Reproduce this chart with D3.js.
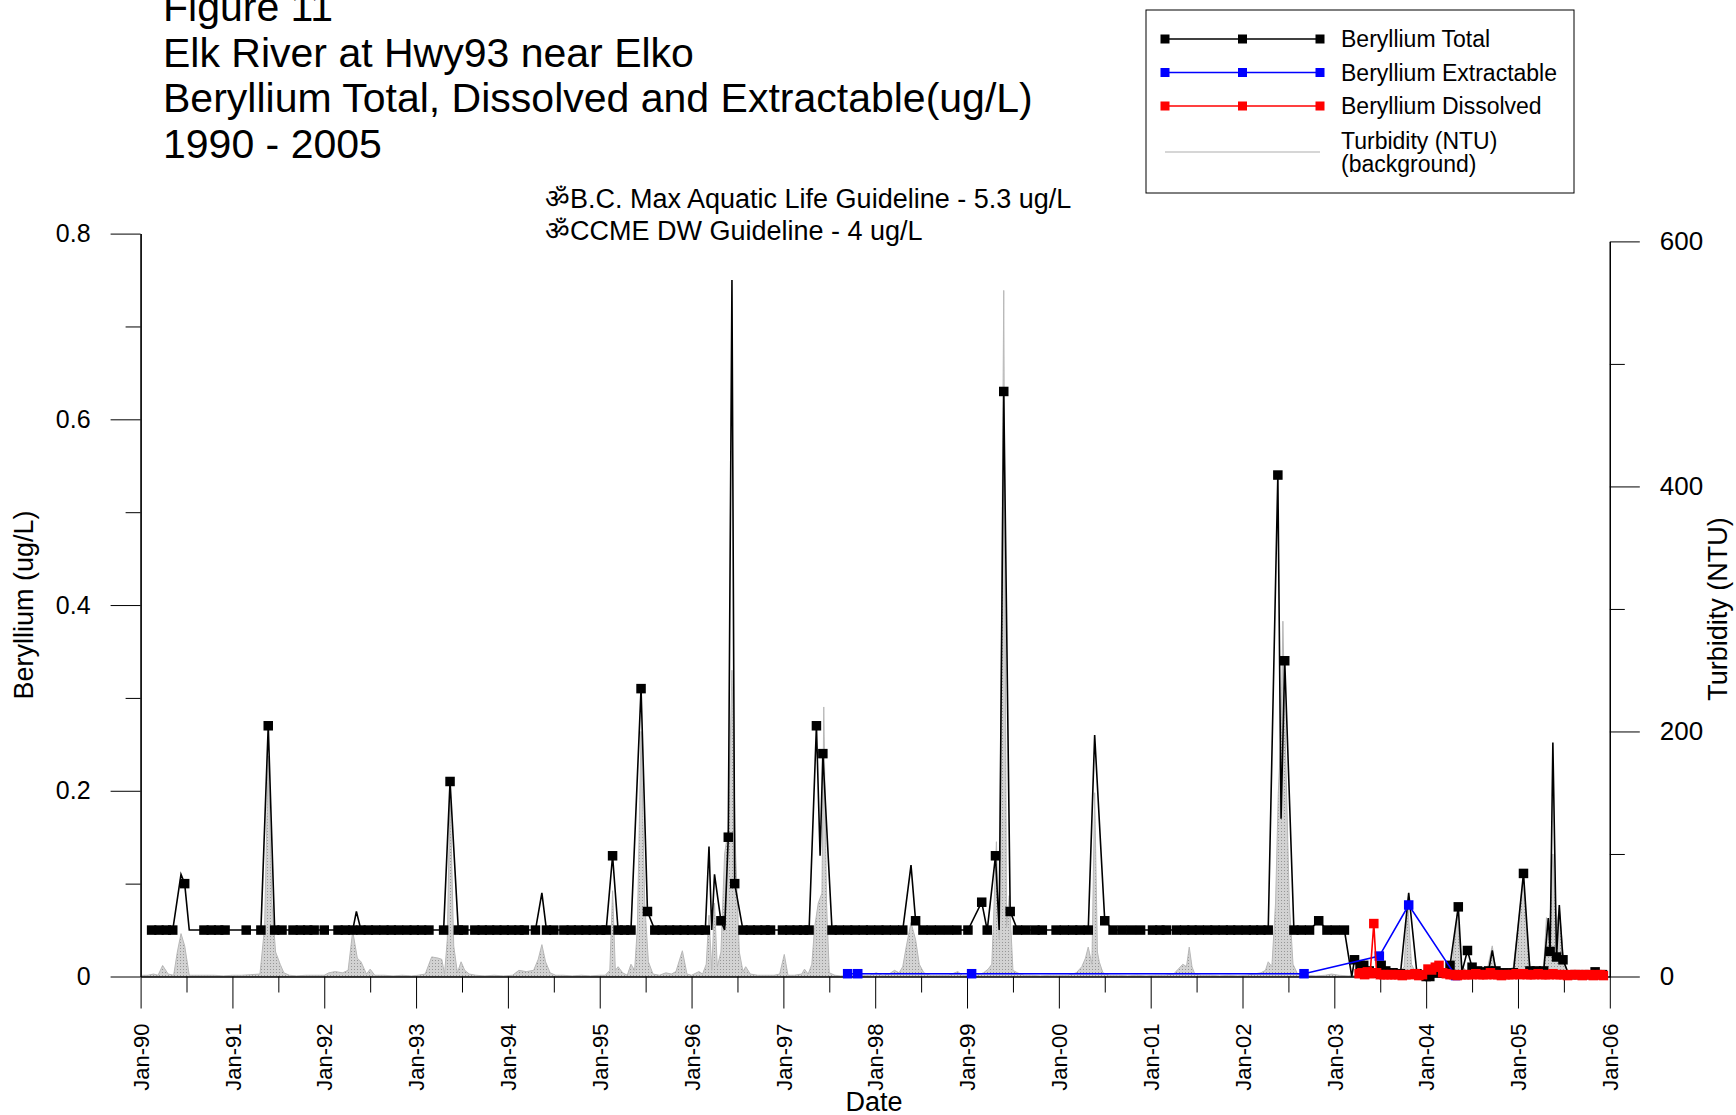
<!DOCTYPE html>
<html>
<head>
<meta charset="utf-8">
<script src="https://cdn.jsdelivr.net/npm/d3@7"></script>
<style>
  body { margin: 0; background: #fff; }
  text { font-family: "Liberation Sans", Arial, sans-serif; }
</style>
</head>
<body>
<svg id="chart" width="1736" height="1115"></svg>
<script>
// ---- data ----
var titleLines = ["Figure 11", "Elk River at Hwy93 near Elko",
  "Beryllium Total, Dissolved and Extractable(ug/L)", "1990 - 2005"];
var guideLines = ["\u0950B.C. Max Aquatic Life Guideline - 5.3 ug/L", "\u0950CCME DW Guideline - 4 ug/L"];

var yearTicks = [1990,1991,1992,1993,1994,1995,1996,1997,1998,1999,2000,2001,2002,2003,2004,2005,2006];
var yearLabels = ["Jan-90","Jan-91","Jan-92","Jan-93","Jan-94","Jan-95","Jan-96","Jan-97","Jan-98",
  "Jan-99","Jan-00","Jan-01","Jan-02","Jan-03","Jan-04","Jan-05","Jan-06"];
var midYearTicks = [1990.5,1991.5,1992.5,1993.5,1994.5,1995.5,1996.5,1997.5,1998.5,1999.5,
  2000.5,2001.5,2002.5,2003.5,2004.5,2005.5];
var leftMajor = [0, 0.2, 0.4, 0.6, 0.8];
var leftMinor = [0.1, 0.3, 0.5, 0.7];
var rightMajor = [0, 200, 400, 600];
var rightMinor = [100, 300, 500];

// [decimal year, ug/L]
var berylTotal = [
  [1990.12,.05],[1990.20,.05],[1990.28,.05],[1990.35,.05],[1990.44,.11],[1990.48,.10],[1990.53,.05],
  [1990.69,.05],[1990.77,.05],[1990.85,.05],[1990.92,.05],
  [1991.15,.05],[1991.31,.05],[1991.39,.27],[1991.46,.05],[1991.54,.05],[1991.66,.05],[1991.74,.05],
  [1991.82,.05],[1991.89,.05],
  [1992.00,.05],[1992.15,.05],[1992.23,.05],[1992.31,.05],[1992.35,.07],[1992.40,.05],[1992.48,.05],
  [1992.56,.05],[1992.65,.05],[1992.73,.05],[1992.81,.05],[1992.90,.05],[1992.98,.05],
  [1993.06,.05],[1993.14,.05],[1993.30,.05],[1993.37,.21],[1993.46,.05],[1993.52,.05],[1993.64,.05],
  [1993.72,.05],[1993.80,.05],[1993.88,.05],[1993.96,.05],
  [1994.04,.05],[1994.12,.05],[1994.18,.05],[1994.30,.05],[1994.37,.09],[1994.42,.05],[1994.50,.05],
  [1994.61,.05],[1994.69,.05],[1994.77,.05],[1994.85,.05],[1994.93,.05],
  [1995.01,.05],[1995.07,.05],[1995.14,.13],[1995.20,.05],[1995.27,.05],[1995.34,.05],[1995.45,.31],
  [1995.52,.07],[1995.60,.05],[1995.68,.05],[1995.76,.05],[1995.84,.05],[1995.92,.05],
  [1996.00,.05],[1996.08,.05],[1996.15,.05],[1996.19,.14],[1996.22,.05],[1996.25,.11],[1996.32,.06],
  [1996.36,.05],[1996.40,.15],[1996.44,.75],[1996.47,.10],[1996.56,.05],[1996.64,.05],[1996.72,.05],
  [1996.80,.05],[1996.86,.05],[1996.99,.05],
  [1997.07,.05],[1997.15,.05],[1997.22,.05],[1997.28,.05],[1997.36,.27],[1997.40,.13],[1997.43,.24],
  [1997.53,.05],[1997.61,.05],[1997.70,.05],[1997.78,.05],[1997.87,.05],[1997.95,.05],
  [1998.04,.05],[1998.12,.05],[1998.21,.05],[1998.30,.05],[1998.39,.12],[1998.44,.06],[1998.52,.05],
  [1998.61,.05],[1998.70,.05],[1998.80,.05],[1998.89,.05],
  [1999.01,.05],[1999.16,.08],[1999.22,.05],[1999.31,.13],[1999.35,.05],[1999.40,.63],[1999.47,.07],
  [1999.55,.05],[1999.64,.05],[1999.74,.05],[1999.82,.05],[1999.97,.05],
  [2000.06,.05],[2000.15,.05],[2000.23,.05],[2000.32,.05],[2000.39,.26],[2000.50,.06],[2000.59,.05],
  [2000.69,.05],[2000.79,.05],[2000.89,.05],
  [2001.02,.05],[2001.10,.05],[2001.17,.05],[2001.28,.05],[2001.37,.05],[2001.45,.05],[2001.53,.05],
  [2001.62,.05],[2001.70,.05],[2001.79,.05],[2001.87,.05],[2001.95,.05],
  [2002.04,.05],[2002.12,.05],[2002.20,.05],[2002.28,.05],[2002.385,.54],[2002.42,.17],[2002.46,.34],
  [2002.56,.05],[2002.64,.05],[2002.73,.05],[2002.83,.06],[2002.92,.05],
  [2003.01,.05],[2003.11,.05],[2003.19,0],[2003.22,.018],[2003.28,.012],[2003.32,.012],[2003.38,.006],
  [2003.46,.004],[2003.51,.012],[2003.56,.006],[2003.64,.004],[2003.72,.003],[2003.81,.09],[2003.90,.003],
  [2004.00,0],[2004.04,0],[2004.10,.004],[2004.18,.004],[2004.26,.012],[2004.35,.075],[2004.39,.005],
  [2004.45,.028],[2004.50,.010],[2004.56,.006],[2004.62,.005],[2004.68,.006],[2004.72,.028],[2004.76,.006],
  [2004.85,.004],[2004.95,.004],
  [2005.06,.111],[2005.13,.006],[2005.20,.006],[2005.28,.006],[2005.33,.063],[2005.35,.027],[2005.38,.252],
  [2005.42,.021],[2005.45,.077],[2005.49,.018],[2005.55,.003],[2005.62,.002],[2005.72,.002],[2005.84,.005],
  [2005.92,.002]
];
// samples of the total series drawn without a symbol
var totalNoSymbol = [1990.44,1990.53,1992.35,1994.37,1996.19,1996.22,1996.25,1996.36,1996.44,1997.40,
  1998.39,1999.35,2000.39,2002.42,2003.19,2003.81,2004.39,2004.72,2005.33,2005.38,2005.45,2005.55];

var berylExtractable = [
  [1997.70,.003],[1997.81,.003],[1999.05,.003],[2002.67,.003],[2003.49,.022],[2003.81,.077],[2004.32,.001]
];

var berylDissolved = [
  [2003.27,.003],[2003.30,.004],[2003.33,.002],[2003.36,.005],[2003.39,.003],[2003.43,.057],[2003.46,.004],
  [2003.50,.002],[2003.54,.002],[2003.58,.002],[2003.62,.002],[2003.66,.002],[2003.70,.002],[2003.74,.001],
  [2003.78,.002],[2003.83,.002],[2003.88,.003],[2003.92,.001],[2003.96,.002],[2004.02,.008],[2004.06,.007],
  [2004.10,.010],[2004.14,.012],[2004.18,.004],[2004.22,.003],[2004.26,.002],[2004.30,.002],[2004.34,.001],
  [2004.38,.002],[2004.42,.002],[2004.46,.002],[2004.50,.002],[2004.54,.003],[2004.58,.002],[2004.62,.002],
  [2004.66,.002],[2004.70,.004],[2004.74,.002],[2004.78,.002],[2004.82,.001],[2004.86,.002],[2004.90,.002],
  [2004.94,.002],[2004.98,.003],[2005.02,.002],[2005.06,.003],[2005.10,.002],[2005.14,.002],[2005.18,.002],
  [2005.22,.003],[2005.26,.002],[2005.30,.002],[2005.34,.002],[2005.38,.003],[2005.42,.002],[2005.46,.002],
  [2005.50,.002],[2005.54,.001],[2005.58,.002],[2005.62,.002],[2005.66,.002],[2005.70,.001],[2005.74,.002],
  [2005.78,.002],[2005.82,.001],[2005.86,.002],[2005.90,.002],[2005.93,.001]
];

// [decimal year, NTU]
var turbidity = [
  [1990.02,1],[1990.08,1],[1990.14,2],[1990.19,1],[1990.24,9],[1990.30,2],[1990.36,1],[1990.40,20],
  [1990.44,35],[1990.48,25],[1990.53,1],[1990.60,1],[1990.70,1],[1990.80,1],[1990.90,0.5],
  [1991.00,1],[1991.10,1],[1991.20,1.5],[1991.30,2],[1991.35,40],[1991.39,180],[1991.43,60],[1991.47,20],
  [1991.52,10],[1991.56,3],[1991.62,1],[1991.70,0.5],[1991.80,1],[1991.90,1],
  [1992.00,1],[1992.05,3],[1992.12,4],[1992.20,3],[1992.26,5],[1992.31,37],[1992.36,15],[1992.40,12],
  [1992.46,2],[1992.50,6],[1992.55,1],[1992.65,1],[1992.75,0.5],[1992.85,1],[1992.95,0.5],
  [1993.02,1],[1993.10,2],[1993.17,16],[1993.24,15],[1993.28,14],[1993.31,2],[1993.34,30],[1993.37,150],
  [1993.41,25],[1993.45,3],[1993.49,12],[1993.53,5],[1993.58,2],[1993.65,1],[1993.75,0.5],[1993.85,1],[1993.95,0.5],
  [1994.05,1],[1994.12,5],[1994.20,4],[1994.28,5],[1994.33,14],[1994.37,26],[1994.41,12],[1994.46,3],
  [1994.52,1],[1994.60,1],[1994.70,0.5],[1994.80,1],[1994.90,0.5],
  [1995.00,1],[1995.06,1],[1995.11,5],[1995.14,70],[1995.17,5],[1995.20,8],[1995.25,3],[1995.30,1],
  [1995.34,10],[1995.38,5],[1995.41,40],[1995.45,200],[1995.49,60],[1995.53,12],[1995.58,2],[1995.65,1],
  [1995.72,3],[1995.78,2],[1995.83,4],[1995.90,21],[1995.95,2],
  [1996.00,1],[1996.08,4],[1996.12,2],[1996.16,10],[1996.19,50],[1996.22,5],[1996.25,60],[1996.28,8],
  [1996.32,20],[1996.36,100],[1996.40,120],[1996.44,250],[1996.48,100],[1996.52,20],[1996.56,4],[1996.59,8],
  [1996.64,2],[1996.72,1],[1996.80,1],[1996.90,1],[1996.96,2],
  [1997.01,18],[1997.05,1],[1997.12,1],[1997.20,2],[1997.23,6],[1997.27,2],[1997.31,10],[1997.34,40],
  [1997.38,60],[1997.42,68],[1997.44,220],[1997.47,60],[1997.50,3],[1997.56,1],[1997.62,0.5],[1997.70,0.5],
  [1997.78,0.5],[1997.86,1],[1997.94,1],
  [1998.01,3],[1998.08,1],[1998.15,2],[1998.21,5],[1998.26,3],[1998.30,8],[1998.34,25],[1998.39,44],
  [1998.44,30],[1998.48,10],[1998.53,3],[1998.60,1],[1998.70,1],[1998.80,1],[1998.90,4],[1998.95,1],
  [1999.02,1],[1999.10,1],[1999.18,3],[1999.23,6],[1999.27,10],[1999.32,110],[1999.35,30],[1999.40,560],
  [1999.43,40],[1999.46,66],[1999.50,5],[1999.55,3],[1999.62,1],[1999.70,1],[1999.80,0.5],[1999.90,1],
  [2000.00,1],[2000.10,1],[2000.19,3],[2000.25,8],[2000.29,15],[2000.32,24],[2000.36,10],[2000.39,150],
  [2000.42,20],[2000.44,12],[2000.48,3],[2000.55,1],[2000.65,1],[2000.75,0.5],[2000.85,1],[2000.95,0.5],
  [2001.05,1],[2001.15,1],[2001.25,2],[2001.30,6],[2001.35,10],[2001.39,8],[2001.42,24],[2001.45,8],
  [2001.48,2],[2001.55,1],[2001.65,1],[2001.75,0.5],[2001.85,1],[2001.95,0.5],
  [2002.05,1],[2002.12,2],[2002.20,3],[2002.25,5],[2002.28,12],[2002.32,8],[2002.36,60],[2002.39,150],
  [2002.42,200],[2002.44,290],[2002.47,180],[2002.51,60],[2002.55,10],[2002.60,2],[2002.70,1],[2002.80,0.5],
  [2002.90,1],[2002.97,2],
  [2003.05,1],[2003.15,0.5],[2003.25,1],[2003.35,2],[2003.42,3],[2003.50,1],[2003.60,1],[2003.70,2],
  [2003.76,8],[2003.80,60],[2003.84,10],[2003.90,1],
  [2004.00,1],[2004.10,1],[2004.20,2],[2004.28,6],[2004.34,52],[2004.38,10],[2004.44,4],[2004.50,2],
  [2004.60,3],[2004.66,4],[2004.72,25],[2004.76,5],[2004.85,2],[2004.95,8],
  [2005.00,40],[2005.06,83],[2005.10,30],[2005.14,5],[2005.22,3],[2005.28,8],[2005.31,48],[2005.34,30],
  [2005.38,100],[2005.42,40],[2005.45,56],[2005.49,20],[2005.53,5],[2005.60,2],[2005.70,1],[2005.80,1],[2005.90,1]
];

var legendLabels = ["Beryllium Total", "Beryllium Extractable", "Beryllium Dissolved"];
var legendColors = ["#000000", "#0000ff", "#ff0000"];

// ---- drawing ----
var svg = d3.select("#chart");
var plot = {left: 140.6, right: 1609.8, top: 233.6, bottom: 976.5};

var x = d3.scaleLinear().domain([1990, 2006]).range([plot.left, plot.right]);
var yL = d3.scaleLinear().domain([0, 0.8]).range([plot.bottom, plot.top]);
var yR = d3.scaleLinear().domain([0, 600]).range([plot.bottom, 241.4]);

// stipple fill for the turbidity background
var pat = svg.append("defs").append("pattern")
    .attr("id", "stipple").attr("width", 3).attr("height", 3)
    .attr("patternUnits", "userSpaceOnUse");
pat.append("rect").attr("width", 3).attr("height", 3).attr("fill", "#d2d2d2");
pat.append("rect").attr("width", 1).attr("height", 1).attr("fill", "#969696");

// titles
svg.append("g").selectAll("text")
  .data(titleLines)
  .enter().append("text")
    .attr("x", 163)
    .attr("y", function(d, i) { return 21 + i * 45.5; })
    .attr("font-size", "41px")
    .text(function(d) { return d; });

svg.append("g").selectAll("text")
  .data(guideLines)
  .enter().append("text")
    .attr("x", 545)
    .attr("y", function(d, i) { return 208 + i * 32; })
    .attr("font-size", "27px")
    .text(function(d) { return d; });

// turbidity area (right axis)
var area = d3.area()
    .x(function(d) { return x(d[0]); })
    .y0(yR(0))
    .y1(function(d) { return yR(d[1]); });
svg.append("path")
    .datum(turbidity)
    .attr("d", area)
    .attr("fill", "url(#stipple)")
    .attr("stroke", "#b8b8b8")
    .attr("stroke-width", 1);

// axes
function styleAxis(g, size) {
  g.select(".domain").attr("stroke", "#000").attr("stroke-width", 1.2);
  g.selectAll(".tick line").attr("stroke", "#000").attr("stroke-width", 1);
  g.selectAll("text").attr("fill", "#000").attr("font-size", size)
    .attr("font-family", "'Liberation Sans', Arial, sans-serif");
}

var gLeft = svg.append("g").attr("transform", "translate(" + plot.left + ",0)")
    .call(d3.axisLeft(yL).tickValues(leftMajor).tickSize(30).tickPadding(20).tickSizeOuter(0)
      .tickFormat(function(d) { return d === 0 ? "0" : d.toFixed(1); }));
styleAxis(gLeft, "25px");
svg.append("g").attr("transform", "translate(" + plot.left + ",0)")
    .call(d3.axisLeft(yL).tickValues(leftMinor).tickSize(15).tickSizeOuter(0).tickFormat(""))
    .call(function(g) { styleAxis(g, "1px"); });

var gRight = svg.append("g").attr("transform", "translate(" + plot.right + ",0)")
    .call(d3.axisRight(yR).tickValues(rightMajor).tickSize(30).tickPadding(20).tickSizeOuter(0));
styleAxis(gRight, "26px");
svg.append("g").attr("transform", "translate(" + plot.right + ",0)")
    .call(d3.axisRight(yR).tickValues(rightMinor).tickSize(15).tickSizeOuter(0).tickFormat(""))
    .call(function(g) { styleAxis(g, "1px"); });

var gBottom = svg.append("g").attr("transform", "translate(0," + plot.bottom + ")")
    .call(d3.axisBottom(x).tickValues(yearTicks).tickSize(32).tickSizeOuter(0)
      .tickFormat(function(d, i) { return yearLabels[i]; }));
styleAxis(gBottom, "22px");
gBottom.selectAll("text")
    .attr("transform", "rotate(-90)")
    .attr("text-anchor", "end")
    .attr("x", -47)
    .attr("y", 0)
    .attr("dy", "0.35em");
svg.append("g").attr("transform", "translate(0," + plot.bottom + ")")
    .call(d3.axisBottom(x).tickValues(midYearTicks).tickSize(16).tickSizeOuter(0).tickFormat(""))
    .call(function(g) { styleAxis(g, "1px"); });

// axis titles
svg.append("text")
    .attr("transform", "translate(33,605) rotate(-90)")
    .attr("text-anchor", "middle")
    .attr("font-size", "27px")
    .text("Beryllium (ug/L)");
svg.append("text")
    .attr("transform", "translate(1727,609) rotate(-90)")
    .attr("text-anchor", "middle")
    .attr("font-size", "27px")
    .text("Turbidity (NTU)");
svg.append("text")
    .attr("x", 874)
    .attr("y", 1111)
    .attr("text-anchor", "middle")
    .attr("font-size", "27px")
    .text("Date");

// beryllium series
var line = d3.line()
    .x(function(d) { return x(d[0]); })
    .y(function(d) { return yL(d[1]); });

function drawSeries(data, color, skip) {
  var g = svg.append("g");
  g.append("path")
      .datum(data)
      .attr("d", line)
      .attr("fill", "none")
      .attr("stroke", color)
      .attr("stroke-width", 1.6);
  g.selectAll("rect")
    .data(data.filter(function(d) { return skip.indexOf(d[0]) < 0; }))
    .enter().append("rect")
      .attr("x", function(d) { return x(d[0]) - 4.75; })
      .attr("y", function(d) { return yL(d[1]) - 4.75; })
      .attr("width", 9.5)
      .attr("height", 9.5)
      .attr("fill", color);
}
drawSeries(berylTotal, legendColors[0], totalNoSymbol);
drawSeries(berylExtractable, legendColors[1], []);
drawSeries(berylDissolved, legendColors[2], []);

// legend
var legend = svg.append("g");
legend.append("rect")
    .attr("x", 1146).attr("y", 10).attr("width", 428).attr("height", 183)
    .attr("fill", "#fff").attr("stroke", "#000").attr("stroke-width", 1);
var rows = legend.selectAll(".row")
    .data(legendLabels)
    .enter().append("g")
    .attr("class", "row")
    .attr("transform", function(d, i) { return "translate(0," + (39 + i * 33.5) + ")"; });
rows.append("line")
    .attr("x1", 1165).attr("x2", 1320)
    .attr("stroke", function(d, i) { return legendColors[i]; })
    .attr("stroke-width", 1.6);
rows.selectAll("rect")
    .data(function(d, i) { return [1165, 1242.5, 1320].map(function(p) { return [p, legendColors[i]]; }); })
    .enter().append("rect")
    .attr("x", function(d) { return d[0] - 4.5; })
    .attr("y", -4.5).attr("width", 9).attr("height", 9)
    .attr("fill", function(d) { return d[1]; });
rows.append("text")
    .attr("x", 1341).attr("y", 8)
    .attr("font-size", "23px")
    .text(function(d) { return d; });
legend.append("line")
    .attr("x1", 1165).attr("x2", 1320).attr("y1", 152).attr("y2", 152)
    .attr("stroke", "#c8c8c8").attr("stroke-width", 1.5);
legend.append("text").attr("x", 1341).attr("y", 149).attr("font-size", "23px").text("Turbidity (NTU)");
legend.append("text").attr("x", 1341).attr("y", 172).attr("font-size", "23px").text("(background)");
</script>
</body>
</html>
